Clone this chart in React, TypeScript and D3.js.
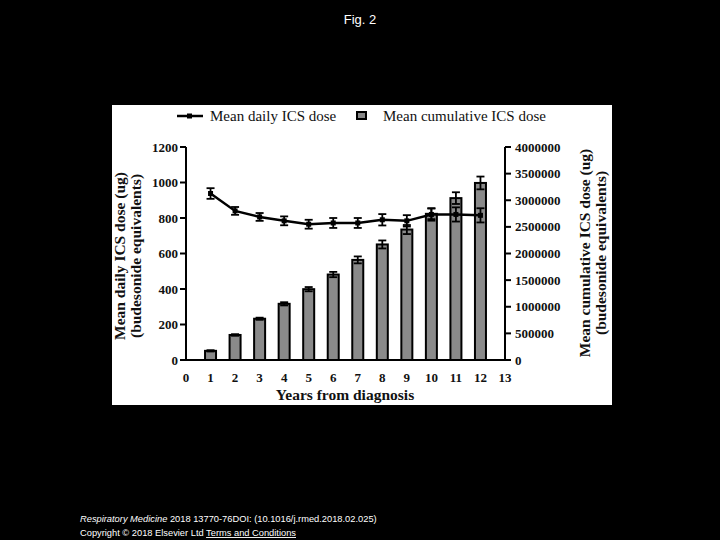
import React from "react";
import * as d3 from "d3";

const years = [1, 2, 3, 4, 5, 6, 7, 8, 9, 10, 11, 12];
const dailyDose = [938, 840, 806, 784, 765, 772, 772, 790, 784, 820, 820, 815];
const dailyErr = [30, 22, 22, 25, 25, 28, 28, 32, 32, 35, 40, 40];
const cumulativeDose = [172000, 470000, 775000, 1055000, 1330000, 1605000, 1880000, 2170000, 2450000, 2745000, 3040000, 3325000];
const cumulativeErr = [12000, 15000, 20000, 30000, 40000, 50000, 65000, 75000, 85000, 100000, 110000, 120000];
const xTicks = d3.range(0, 14);
const leftTicks = [0, 200, 400, 600, 800, 1000, 1200];
const rightTicks = [0, 500000, 1000000, 1500000, 2000000, 2500000, 3000000, 3500000, 4000000];

const SERIF = "'Liberation Serif', 'Times New Roman', serif";
const SANS = "'Liberation Sans', Arial, sans-serif";

export default function App() {
  const x = d3.scaleLinear().domain([0, 13]).range([186, 505]);
  const yL = d3.scaleLinear().domain([0, 1200]).range([360, 147]);
  const yR = d3.scaleLinear().domain([0, 4000000]).range([360, 147]);
  const barW = 11;
  const line = d3
    .line<number>()
    .x((_, i) => x(years[i]))
    .y((d) => yL(d));

  return (
    <svg
      width={720}
      height={540}
      style={{ position: "absolute", left: 0, top: 0, background: "#000" }}
    >
      <rect x={0} y={0} width={720} height={540} fill="#000" />
      <text x={360} y={24} fill="#fff" fontFamily={SANS} fontSize={13} textAnchor="middle">
        Fig. 2
      </text>
      <rect x={112} y={105} width={500} height={300} fill="#fff" />

      {/* legend */}
      <g fontFamily={SERIF} fontSize={15} fill="#111">
        <line x1={177} x2={203} y1={116} y2={116} stroke="#000" strokeWidth={2.5} />
        <rect x={187} y={113.5} width={5} height={5} fill="#000" />
        <text x={210} y={121}>Mean daily ICS  dose</text>
        <rect x={357} y={112} width={9} height={7} fill="#888" stroke="#000" strokeWidth={2} />
        <text x={383} y={121}>Mean cumulative ICS dose</text>
      </g>

      {/* bars */}
      <g>
        {cumulativeDose.map((v, i) => (
          <rect
            key={"b" + i}
            x={x(years[i]) - barW / 2}
            y={yR(v)}
            width={barW}
            height={yR(0) - yR(v)}
            fill="#8a8a8a"
            stroke="#000"
            strokeWidth={2}
          />
        ))}
        {cumulativeDose.map((v, i) => {
          const cx = x(years[i]);
          const t = yR(v + cumulativeErr[i]);
          const b = yR(v - cumulativeErr[i]);
          return (
            <g key={"be" + i} stroke="#000" strokeWidth={1.8}>
              <line x1={cx} x2={cx} y1={t} y2={b} />
              <line x1={cx - 4} x2={cx + 4} y1={t} y2={t} />
              <line x1={cx - 4} x2={cx + 4} y1={b} y2={b} />
            </g>
          );
        })}
      </g>

      {/* line */}
      <path d={line(dailyDose) || ""} fill="none" stroke="#000" strokeWidth={2.5} />
      {dailyDose.map((v, i) => {
        const cx = x(years[i]);
        const t = yL(v + dailyErr[i]);
        const b = yL(v - dailyErr[i]);
        return (
          <g key={"le" + i} stroke="#000" strokeWidth={1.8}>
            <line x1={cx} x2={cx} y1={t} y2={b} />
            <line x1={cx - 4} x2={cx + 4} y1={t} y2={t} />
            <line x1={cx - 4} x2={cx + 4} y1={b} y2={b} />
            <rect x={cx - 2.5} y={yL(v) - 2.5} width={5} height={5} fill="#000" stroke="none" />
          </g>
        );
      })}

      {/* axes */}
      <g stroke="#000" strokeWidth={2}>
        <line x1={186} x2={186} y1={yL(1200)} y2={yL(0)} />
        <line x1={505} x2={505} y1={yR(4000000)} y2={yR(0)} />
        <line x1={186} x2={505} y1={360} y2={360} />
        {leftTicks.map((t) => (
          <line key={"lt" + t} x1={180} x2={186} y1={yL(t)} y2={yL(t)} />
        ))}
        {rightTicks.map((t) => (
          <line key={"rt" + t} x1={505} x2={511} y1={yR(t)} y2={yR(t)} />
        ))}
      </g>
      <g fontFamily={SERIF} fontSize={13} fontWeight="bold" fill="#111">
        {leftTicks.map((t) => (
          <text key={"ll" + t} x={178} y={yL(t) + 4.5} textAnchor="end">
            {t}
          </text>
        ))}
        {rightTicks.map((t) => (
          <text key={"rl" + t} x={515} y={yR(t) + 4.5} textAnchor="start">
            {t}
          </text>
        ))}
        {xTicks.map((t) => (
          <text key={"xl" + t} x={x(t)} y={382} textAnchor="middle">
            {t}
          </text>
        ))}
      </g>

      {/* axis titles */}
      <g fontFamily={SERIF} fontSize={15.5} fontWeight="bold" fill="#111" textAnchor="middle">
        <text x={345} y={400}>Years from diagnosis</text>
        <text transform="translate(125,256) rotate(-90)">Mean daily ICS dose (ug)</text>
        <text transform="translate(141,256) rotate(-90)">(budesonide equivalents)</text>
        <text transform="translate(590,253) rotate(-90)">Mean cumulative ICS dose (ug)</text>
        <text transform="translate(606,253) rotate(-90)">(budesonide equivalents)</text>
      </g>

      {/* footer */}
      <g fontFamily={SANS} fontSize={9.3} fill="#fff">
        <text x={80} y={522}>
          <tspan fontStyle="italic">Respiratory Medicine</tspan> 2018 13770-76DOI: (10.1016/j.rmed.2018.02.025)
        </text>
        <text x={80} y={536}>
          Copyright © 2018 Elsevier Ltd{" "}
          <tspan textDecoration="underline">Terms and Conditions</tspan>
        </text>
      </g>
    </svg>
  );
}
